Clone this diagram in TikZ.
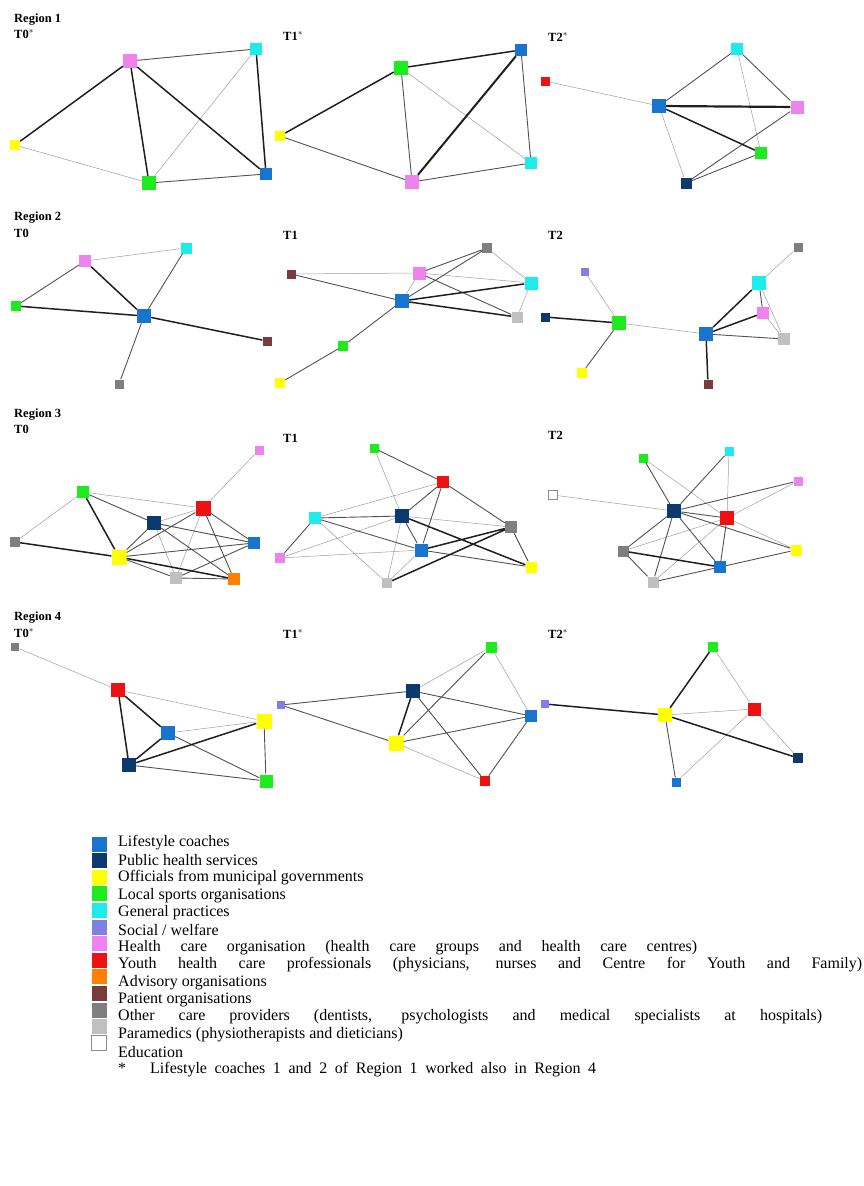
\documentclass[tikz,border=0pt]{standalone}
\usepackage{fontspec}
\setmainfont{Liberation Serif}
\usetikzlibrary{calc}

% actor colours
\definecolor{lccol}{RGB}{24,116,205}
\definecolor{phscol}{RGB}{12,58,110}
\definecolor{offcol}{RGB}{255,255,0}
\definecolor{spocol}{RGB}{30,235,30}
\definecolor{gpcol}{RGB}{30,235,235}
\definecolor{soccol}{RGB}{128,128,224}
\definecolor{hcocol}{RGB}{238,130,238}
\definecolor{yhccol}{RGB}{238,17,17}
\definecolor{yhpcol}{RGB}{255,128,0}
\definecolor{advcol}{RGB}{122,59,59}
\definecolor{patcol}{RGB}{127,127,127}
\definecolor{ocpcol}{RGB}{192,192,192}

\tikzset{
  actor/.style={rectangle, inner sep=0pt, minimum size=#1},
  lc/.style={actor=#1, fill=lccol},
  phs/.style={actor=#1, fill=phscol},
  off/.style={actor=#1, fill=offcol},
  spo/.style={actor=#1, fill=spocol},
  gp/.style={actor=#1, fill=gpcol},
  soc/.style={actor=#1, fill=soccol},
  hco/.style={actor=#1, fill=hcocol},
  yhc/.style={actor=#1, fill=yhccol},
  yhp/.style={actor=#1, fill=yhpcol},
  adv/.style={actor=#1, fill=advcol},
  pat/.style={actor=#1, fill=patcol},
  ocp/.style={actor=#1, fill=ocpcol},
  para/.style={actor=#1, fill=white, draw=black!45, line width=0.5pt},
  weaklink/.style={draw=black!38, line width=0.5pt},
  midlink/.style={draw=black!68, line width=0.9pt},
  stronglink/.style={draw=black!88, line width=1.5pt},
  panel/.style={anchor=west, font=\fontsize{12.5}{13}\selectfont\bfseries, inner sep=0pt},
  keytext/.style={anchor=west, font=\fontsize{16}{17}\selectfont, inner sep=0pt}
}

\begin{document}
\begin{tikzpicture}[x=1pt, y=-1pt]

		\useasboundingbox (0,0) rectangle (864,1186);

		% panel titles
		\node[panel] (reg1) at (14,20) {Region 1};
		\node[panel] (r1t0) at (14,34) {T0$^{*}$};
		\node[panel] (r1t1) at (283,36) {T1$^{*}$};
		\node[panel] (r1t2) at (548,37) {T2$^{*}$};
		\node[panel] (reg2) at (14,218) {Region 2};
		\node[panel] (r2t0) at (14,233) {T0};
		\node[panel] (r2t1) at (283,235) {T1};
		\node[panel] (r2t2) at (548,235) {T2};
		\node[panel] (reg3) at (14,415) {Region 3};
		\node[panel] (r3t0) at (14,429) {T0};
		\node[panel] (r3t1) at (283,438) {T1};
		\node[panel] (r3t2) at (548,435) {T2};
		\node[panel] (reg4) at (14,618) {Region 4};
		\node[panel] (r4t0) at (14,633) {T0$^{*}$};
		\node[panel] (r4t1) at (283,634) {T1$^{*}$};
		\node[panel] (r4t2) at (548,634) {T2$^{*}$};

		% Region 1, T0
		\node[hco=14] (a0hco) at (130,61) {};
		\node[gp=12] (a0gp) at (256,49) {};
		\node[off=10] (a0off) at (15,145) {};
		\node[spo=14] (a0spo) at (149,183) {};
		\node[lc=12] (a0lc) at (266,174) {};
		\draw[weaklink] (a0gp) -- (a0spo) (a0off) -- (a0spo);
		\draw[midlink] (a0hco) -- (a0gp) (a0spo) -- (a0lc);
		\draw[stronglink] (a0hco) -- (a0off) (a0hco) -- (a0spo) (a0hco) -- (a0lc) (a0gp) -- (a0lc);

		% Region 1, T1
		\node[spo=14] (a1spo) at (401,68) {};
		\node[lc=12] (a1lc) at (521,50) {};
		\node[off=10] (a1off) at (280,136) {};
		\node[hco=14] (a1hco) at (412,182) {};
		\node[gp=12] (a1gp) at (531,163) {};
		\draw[weaklink] (a1spo) -- (a1gp);
		\draw[midlink] (a1spo) -- (a1hco) (a1lc) -- (a1gp) (a1off) -- (a1hco) (a1hco) -- (a1gp);
		\draw[stronglink] (a1spo) -- (a1lc) (a1spo) -- (a1off);
		\draw[stronglink, line width=2pt] (a1lc) -- (a1hco);

		% Region 1, T2
		\node[yhc=9] (a2yhc) at (545,81) {};
		\node[lc=14] (a2lc) at (659,106) {};
		\node[gp=12] (a2gp) at (737,49) {};
		\node[hco=13] (a2hco) at (797,107) {};
		\node[spo=12] (a2spo) at (761,153) {};
		\node[phs=11] (a2phs) at (686,183) {};
		\draw[weaklink] (a2yhc) -- (a2lc) (a2lc) -- (a2phs) (a2gp) -- (a2spo);
		\draw[midlink] (a2lc) -- (a2gp) (a2gp) -- (a2hco) (a2hco) -- (a2phs) (a2spo) -- (a2phs);
		\draw[stronglink] (a2lc) -- (a2spo);
		\draw[stronglink, line width=2.2pt] (a2lc) -- (a2hco);

		% Region 2, T0
		\node[hco=12] (b0hco) at (85,261) {};
		\node[gp=11] (b0gp) at (186,248) {};
		\node[spo=10] (b0spo) at (16,306) {};
		\node[lc=14] (b0lc) at (144,316) {};
		\node[adv=9] (b0adv) at (267,341) {};
		\node[pat=9] (b0pat) at (119,384) {};
		\draw[weaklink] (b0hco) -- (b0gp);
		\draw[midlink] (b0hco) -- (b0spo) (b0gp) -- (b0lc) (b0lc) -- (b0pat);
		\draw[stronglink] (b0hco) -- (b0lc) (b0spo) -- (b0lc) (b0lc) -- (b0adv);

		% Region 2, T1
		\node[adv=9] (b1adv) at (291,274) {};
		\node[hco=13] (b1hco) at (419,273) {};
		\node[pat=10] (b1pat) at (487,248) {};
		\node[gp=13] (b1gp) at (531,283) {};
		\node[lc=14] (b1lc) at (402,301) {};
		\node[ocp=11] (b1ocp) at (517,317) {};
		\node[spo=10] (b1spo) at (343,346) {};
		\node[off=10] (b1off) at (280,383) {};
		\draw[weaklink] (b1adv) -- (b1hco) (b1hco) -- (b1gp) (b1hco) -- (b1lc) (b1pat) -- (b1gp) (b1gp) -- (b1ocp);
		\draw[midlink] (b1adv) -- (b1lc) (b1hco) -- (b1pat) (b1hco) -- (b1ocp) (b1lc) -- (b1pat) (b1lc) -- (b1spo) (b1spo) -- (b1off);
		\draw[stronglink] (b1lc) -- (b1ocp) (b1lc) -- (b1gp);

		% Region 2, T2
		\node[soc=8] (b2soc) at (585,272) {};
		\node[phs=9] (b2phs) at (545,317) {};
		\node[spo=14] (b2spo) at (619,323) {};
		\node[off=10] (b2off) at (582,373) {};
		\node[lc=14] (b2lc) at (706,334) {};
		\node[adv=9] (b2adv) at (708,384) {};
		\node[pat=9] (b2pat) at (798,247) {};
		\node[gp=14] (b2gp) at (759,283) {};
		\node[hco=12] (b2hco) at (763,313) {};
		\node[ocp=12] (b2ocp) at (784,339) {};
		\draw[weaklink] (b2soc) -- (b2spo) (b2spo) -- (b2lc) (b2gp) -- (b2pat) (b2gp) -- (b2ocp) (b2hco) -- (b2ocp);
		\draw[midlink] (b2spo) -- (b2off) (b2lc) -- (b2ocp) (b2gp) -- (b2hco);
		\draw[stronglink] (b2phs) -- (b2spo) (b2lc) -- (b2adv) (b2lc) -- (b2gp) (b2lc) -- (b2hco);

		% Region 3, T0
		\node[hco=9] (c0hco) at (259,450) {};
		\node[spo=12] (c0spo) at (83,492) {};
		\node[yhc=15] (c0yhc) at (203,508) {};
		\node[phs=14] (c0phs) at (154,523) {};
		\node[pat=10] (c0pat) at (15,542) {};
		\node[lc=12] (c0lc) at (254,543) {};
		\node[off=15] (c0off) at (119,557) {};
		\node[ocp=12] (c0ocp) at (176,578) {};
		\node[yhp=12] (c0yhp) at (234,579) {};
		\draw[weaklink] (c0hco) -- (c0yhc) (c0spo) -- (c0yhc) (c0spo) -- (c0pat) (c0yhc) -- (c0phs) (c0yhc) -- (c0ocp) (c0phs) -- (c0ocp);
		\draw[midlink] (c0spo) -- (c0phs) (c0yhc) -- (c0off) (c0yhc) -- (c0lc) (c0yhc) -- (c0yhp) (c0phs) -- (c0off) (c0phs) -- (c0lc) (c0phs) -- (c0yhp) (c0off) -- (c0lc) (c0off) -- (c0ocp) (c0lc) -- (c0ocp) (c0ocp) -- (c0yhp);
		\draw[stronglink] (c0spo) -- (c0off) (c0pat) -- (c0off) (c0off) -- (c0yhp);

		% Region 3, T1
		\node[spo=9] (c1spo) at (374,448) {};
		\node[yhc=12] (c1yhc) at (443,482) {};
		\node[gp=12] (c1gp) at (315,518) {};
		\node[phs=14] (c1phs) at (402,516) {};
		\node[pat=12] (c1pat) at (511,527) {};
		\node[lc=13] (c1lc) at (421,550) {};
		\node[hco=10] (c1hco) at (280,558) {};
		\node[off=11] (c1off) at (531,567) {};
		\node[ocp=10] (c1ocp) at (387,583) {};
		\draw[weaklink] (c1spo) -- (c1phs) (c1yhc) -- (c1gp) (c1gp) -- (c1ocp) (c1phs) -- (c1hco) (c1phs) -- (c1pat) (c1phs) -- (c1ocp) (c1hco) -- (c1lc) (c1lc) -- (c1ocp);
		\draw[midlink] (c1spo) -- (c1yhc) (c1yhc) -- (c1phs) (c1yhc) -- (c1lc) (c1yhc) -- (c1pat) (c1gp) -- (c1phs) (c1gp) -- (c1lc) (c1gp) -- (c1hco) (c1phs) -- (c1lc) (c1lc) -- (c1off) (c1pat) -- (c1off);
		\draw[stronglink] (c1phs) -- (c1off) (c1lc) -- (c1pat) (c1ocp) -- (c1pat);

		% Region 3, T2
		\node[spo=9] (c2spo) at (643,458) {};
		\node[gp=9] (c2gp) at (729,451) {};
		\node[hco=9] (c2hco) at (798,481) {};
		\node[para=9] (c2para) at (553,495) {};
		\node[phs=14] (c2phs) at (674,511) {};
		\node[yhc=14] (c2yhc) at (727,518) {};
		\node[pat=11] (c2pat) at (623,551) {};
		\node[off=11] (c2off) at (796,550) {};
		\node[lc=12] (c2lc) at (720,567) {};
		\node[ocp=11] (c2ocp) at (653,582) {};
		\draw[weaklink] (c2spo) -- (c2yhc) (c2gp) -- (c2yhc) (c2hco) -- (c2yhc) (c2para) -- (c2phs) (c2yhc) -- (c2pat) (c2yhc) -- (c2ocp) (c2yhc) -- (c2off);
		\draw[midlink] (c2spo) -- (c2phs) (c2gp) -- (c2phs) (c2hco) -- (c2phs) (c2phs) -- (c2yhc) (c2phs) -- (c2pat) (c2phs) -- (c2ocp) (c2phs) -- (c2lc) (c2phs) -- (c2off) (c2yhc) -- (c2lc) (c2pat) -- (c2ocp) (c2lc) -- (c2ocp) (c2lc) -- (c2off);
		\draw[stronglink] (c2pat) -- (c2lc);

		% Region 4, T0
		\node[pat=8] (d0pat) at (15,647) {};
		\node[yhc=14] (d0yhc) at (118,690) {};
		\node[off=15] (d0off) at (264,721) {};
		\node[lc=14] (d0lc) at (168,733) {};
		\node[phs=14] (d0phs) at (129,765) {};
		\node[spo=13] (d0spo) at (266,781) {};
		\draw[weaklink] (d0pat) -- (d0yhc) (d0yhc) -- (d0off) (d0lc) -- (d0off);
		\draw[midlink] (d0lc) -- (d0spo) (d0phs) -- (d0spo) (d0off) -- (d0spo);
		\draw[stronglink] (d0yhc) -- (d0lc) (d0yhc) -- (d0phs) (d0lc) -- (d0phs) (d0phs) -- (d0off);

		% Region 4, T1
		\node[spo=11] (d1spo) at (491,647) {};
		\node[phs=14] (d1phs) at (413,691) {};
		\node[soc=8] (d1soc) at (281,705) {};
		\node[lc=12] (d1lc) at (531,716) {};
		\node[off=15] (d1off) at (396,743) {};
		\node[yhc=10] (d1yhc) at (485,781) {};
		\draw[weaklink] (d1phs) -- (d1spo) (d1off) -- (d1yhc) (d1spo) -- (d1lc);
		\draw[midlink] (d1soc) -- (d1phs) (d1soc) -- (d1off) (d1phs) -- (d1lc) (d1phs) -- (d1yhc) (d1off) -- (d1spo) (d1off) -- (d1lc) (d1lc) -- (d1yhc);
		\draw[stronglink] (d1phs) -- (d1off);

		% Region 4, T2
		\node[spo=10] (d2spo) at (713,647) {};
		\node[soc=8] (d2soc) at (545,704) {};
		\node[off=14] (d2off) at (665,715) {};
		\node[yhc=13] (d2yhc) at (754,709) {};
		\node[phs=10] (d2phs) at (798,758) {};
		\node[lc=9] (d2lc) at (676,782) {};
		\draw[weaklink] (d2spo) -- (d2yhc) (d2off) -- (d2yhc) (d2yhc) -- (d2lc) (d2yhc) -- (d2phs);
		\draw[midlink] (d2off) -- (d2lc);
		\draw[stronglink] (d2spo) -- (d2off) (d2soc) -- (d2off) (d2off) -- (d2phs);

		% legend boxes
		\node[lc=15] (k1) at (99,844) {};
		\node[phs=15] (k2) at (99,860.6) {};
		\node[off=15] (k3) at (99,877.2) {};
		\node[spo=15] (k4) at (99,893.8) {};
		\node[gp=15] (k5) at (99,910.4) {};
		\node[soc=15] (k6) at (99,927) {};
		\node[hco=15] (k7) at (99,943.6) {};
		\node[yhc=15] (k8) at (99,960.2) {};
		\node[yhp=15] (k9) at (99,976.8) {};
		\node[adv=15] (k10) at (99,993.4) {};
		\node[pat=15] (k11) at (99,1010) {};
		\node[ocp=15] (k12) at (99,1026.6) {};
		\node[para=15] (k13) at (99,1043.2) {};

		% legend texts
		\node[keytext] (t1) at (118,843) {Lifestyle coaches};
		\node[keytext] (t2) at (118,860.4) {Public health services};
		\node[keytext] (t3) at (118,877.8) {Officials from municipal governments};
		\node[keytext] (t4) at (118,895.2) {Local sports organisations};
		\node[keytext] (t5) at (118,912.6) {General practices};
		\node[keytext] (t6) at (118,930) {Social / welfare};
		\node[keytext] (t7) at (118,947.4) {\makebox[579pt][s]{Health care organisation (health care groups and health care centres)}};
		\node[keytext] (t8) at (118,964.8) {\makebox[744pt][s]{Youth health care professionals (physicians, nurses and Centre for Youth and Family)}};
		\node[keytext] (t9) at (118,982.2) {Advisory organisations};
		\node[keytext] (t10) at (118,999.6) {Patient organisations};
		\node[keytext] (t11) at (118,1017) {\makebox[704pt][s]{Other care providers (dentists, psychologists and medical specialists at hospitals)}};
		\node[keytext] (t12) at (118,1034.4) {Paramedics (physiotherapists and dieticians)};
		\node[keytext] (t13) at (118,1051.8) {Education};
		\node[keytext] (star) at (118,1068) {*};
		\node[keytext] (note) at (150,1070) {\makebox[446pt][s]{Lifestyle coaches 1 and 2 of Region 1 worked also in Region 4}};

	\end{tikzpicture}
\end{document}
